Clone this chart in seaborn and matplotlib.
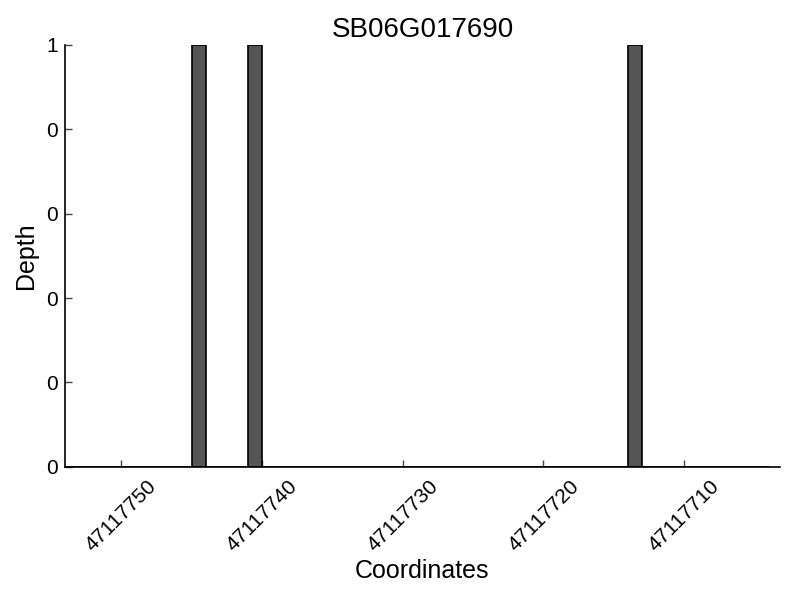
import matplotlib
matplotlib.use("Agg")
import matplotlib.pyplot as plt
import matplotlib.ticker as mticker
import pandas as pd
import seaborn as sns

gene = "SB06G017690"
coords = list(range(47117704, 47117754))
covered = [47117744, 47117740, 47117713]
depth = [1 if c in covered else 0 for c in coords]

df = pd.DataFrame({"Coordinates": coords, "Depth": depth})

sns.set_style("ticks")
plt.rcParams["font.family"] = ["Liberation Sans", "DejaVu Sans"]
plt.rcParams["xtick.direction"] = "in"
plt.rcParams["ytick.direction"] = "in"
plt.rcParams["text.color"] = "black"
plt.rcParams["axes.labelcolor"] = "black"
plt.rcParams["xtick.color"] = "black"
plt.rcParams["ytick.color"] = "black"

fig, ax = plt.subplots(figsize=(8, 6), dpi=100)
fig.subplots_adjust(left=0.081, right=0.975, bottom=0.222, top=0.925)

sns.histplot(data=df, x="Coordinates", weights="Depth", binwidth=1,
             binrange=(min(coords), max(coords) + 1),
             color="#555555", edgecolor="black", linewidth=1.2, alpha=1, ax=ax)

ax.set_xlim(max(coords) + 1, min(coords) - 0.8)
ax.set_ylim(0, 1)
ax.xaxis.set_major_locator(mticker.MultipleLocator(10))
ax.xaxis.set_major_formatter(mticker.FormatStrFormatter("%d"))
ax.yaxis.set_major_locator(mticker.MultipleLocator(0.2))
ax.yaxis.set_major_formatter(mticker.FormatStrFormatter("%d"))
ax.tick_params(axis="both", labelsize=15, length=5, width=1, color="#444444")
ax.tick_params(axis="y", pad=5)
ax.tick_params(axis="x", pad=7)
plt.setp(ax.get_xticklabels(), rotation=45, ha="center")
for sp in ["top", "right"]:
    ax.spines[sp].set_visible(False)
for sp in ["left", "bottom"]:
    ax.spines[sp].set_linewidth(1.2)
    ax.spines[sp].set_color("black")

ax.set_title(gene, fontsize=20, pad=6)
ax.set_xlabel("Coordinates", fontsize=18, labelpad=3)
ax.set_ylabel("Depth", fontsize=18, labelpad=6)

fig.savefig("out.png", dpi=100)
